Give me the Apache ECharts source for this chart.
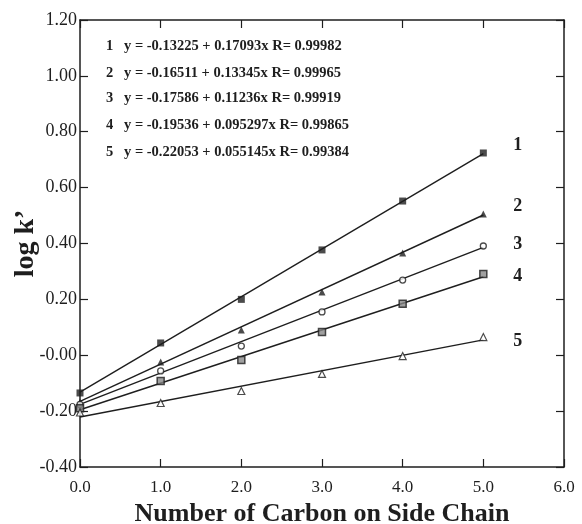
<!DOCTYPE html>
<html>
<head>
<meta charset="utf-8">
<script src="https://cdn.jsdelivr.net/npm/echarts@6/dist/echarts.min.js"></script>
<style>
html,body{margin:0;padding:0;background:#fff;}
#chart{width:582px;height:524px;}
</style>
</head>
<body>
<div id="chart"></div>
<script>
// ---- data ----
const carbons = [0, 1, 2, 3, 4, 5];
const s1 = [-0.135, 0.044, 0.200, 0.377, 0.552, 0.724];
const s2 = [-0.168, -0.024, 0.090, 0.226, 0.366, 0.506];
const s3 = [-0.176, -0.056, 0.033, 0.155, 0.269, 0.391];
const s4 = [-0.190, -0.092, -0.017, 0.083, 0.184, 0.291];
const s5 = [-0.205, -0.171, -0.128, -0.067, -0.003, 0.065];
// fitted line end points (x = 0 and x = 5)
const fitX = [0, 5];
const fit1 = [-0.132, 0.722];
const fit2 = [-0.165, 0.502];
const fit3 = [-0.176, 0.386];
const fit4 = [-0.195, 0.281];
const fit5 = [-0.221, 0.055];
const seriesNames = ['1', '2', '3', '4', '5'];
const equations = [
  'y = -0.13225 + 0.17093x R= 0.99982',
  'y = -0.16511 + 0.13345x R= 0.99965',
  'y = -0.17586 + 0.11236x R= 0.99919',
  'y = -0.19536 + 0.095297x R= 0.99865',
  'y = -0.22053 + 0.055145x R= 0.99384'
];
const xTitle = 'Number of Carbon on Side Chain';
const yTitle = "log k\u2019";

// ---- chart ----
const FONT = '"Liberation Serif", "Times New Roman", serif';
const INK = '#1e1e1e';
const chart = echarts.init(document.getElementById('chart'));
const pts = arr => carbons.map((c, i) => [c, arr[i]]);
const fit = arr => fitX.map((c, i) => [c, arr[i]]);

const markerStyles = [
  {symbol: 'rect', size: 7, style: {color: INK}},
  {symbol: 'triangle', size: 7, style: {color: INK}},
  {symbol: 'circle', size: 6, style: {color: '#fff', borderColor: INK, borderWidth: 1.3}},
  {symbol: 'rect', size: 7, style: {color: '#888', borderColor: INK, borderWidth: 1.5}},
  {symbol: 'triangle', size: 7, style: {color: '#fff', borderColor: INK, borderWidth: 1.2}}
];
const labelOffsets = [[22, -8], [22, -9], [22, -3], [22, 0], [22, 1]];
const pointSets = [s1, s2, s3, s4, s5];
const fitSets = [fit1, fit2, fit3, fit4, fit5];

const series = [];
fitSets.forEach((f, i) => {
  series.push({
    type: 'line', data: fit(f), symbol: 'none', silent: true,
    lineStyle: {color: INK, width: 1.4},
    endLabel: {show: true, formatter: seriesNames[i], offset: labelOffsets[i],
      fontFamily: FONT, fontWeight: 'bold', fontSize: 18, color: INK},
    z: 2
  });
});
pointSets.forEach((p, i) => {
  const m = markerStyles[i];
  series.push({
    type: 'scatter', data: pts(p), symbol: m.symbol, symbolSize: m.size,
    itemStyle: m.style, z: 3
  });
});

const eqY = [48, 75, 100, 127, 154];
const graphics = [];
equations.forEach((e, i) => {
  graphics.push({type: 'text', left: 106, top: eqY[i] - 9,
    style: {text: seriesNames[i], font: 'bold 14.5px ' + FONT, fill: INK}});
  graphics.push({type: 'text', left: 124, top: eqY[i] - 9,
    style: {text: e, font: 'bold 14.5px ' + FONT, fill: INK}});
});

const axisLine = {show: true, onZero: false, lineStyle: {color: INK, width: 1.5}};
const tick = {show: true, inside: true, length: 8, lineStyle: {color: INK, width: 1.2}};
chart.setOption({
  animation: false,
  backgroundColor: '#fff',
  grid: {left: 80, top: 20, right: 18, bottom: 57, containLabel: false, outerBoundsMode: 'none'},
  xAxis: [{
    type: 'value', min: 0, max: 6, interval: 1,
    axisLine, axisTick: tick, splitLine: {show: false},
    axisLabel: {formatter: v => v.toFixed(1), fontFamily: FONT, fontSize: 17, color: INK, margin: 12},
    name: xTitle, nameLocation: 'middle', nameGap: 34, nameMoveOverlap: false,
    nameTextStyle: {fontFamily: FONT, fontWeight: 'bold', fontSize: 26, color: INK}
  }, {
    type: 'value', position: 'top', min: 0, max: 6, interval: 1,
    axisLine, axisTick: tick, axisLabel: {show: false}, splitLine: {show: false}
  }],
  yAxis: [{
    type: 'value', min: -0.4, max: 1.2, interval: 0.2,
    axisLine, axisTick: tick, splitLine: {show: false},
    axisLabel: {formatter: v => (Math.abs(v) < 1e-9 ? '-0.00' : v.toFixed(2)),
      fontFamily: FONT, fontSize: 18, color: INK, margin: 3},
    name: yTitle, nameLocation: 'middle', nameGap: 40, nameMoveOverlap: false,
    nameTextStyle: {fontFamily: FONT, fontWeight: 'bold', fontSize: 28, color: INK}
  }, {
    type: 'value', position: 'right', min: -0.4, max: 1.2, interval: 0.2,
    axisLine, axisTick: tick, axisLabel: {show: false}, splitLine: {show: false}
  }],
  graphic: graphics,
  series
});
</script>
</body>
</html>
